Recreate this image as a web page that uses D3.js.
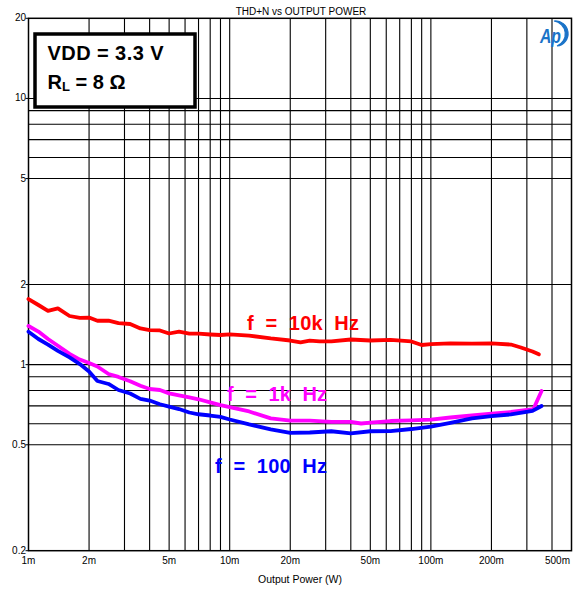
<!DOCTYPE html>
<html><head><meta charset="utf-8">
<script src="https://cdn.jsdelivr.net/npm/d3@7"></script>
<style>
html,body{margin:0;padding:0;background:#fff;}
svg{display:block;font-family:"Liberation Sans",Arial,sans-serif;}
</style></head>
<body>
<svg id="chart" width="575" height="591"></svg>
<script>
// ---- data ----
const powerRed = [0.001,0.00112,0.00125,0.0014,0.0016,0.0018,0.002,0.0022,0.0025,0.0028,0.0032,0.0036,0.004,0.0045,0.005,0.0056,0.0063,0.007,0.008,0.009,0.01,0.0125,0.016,0.02,0.0225,0.025,0.028,0.032,0.04,0.05,0.063,0.08,0.09,0.1,0.125,0.16,0.2,0.25,0.28,0.32,0.344];
const thdRed = [1.764,1.675,1.591,1.628,1.523,1.499,1.503,1.462,1.462,1.433,1.421,1.367,1.349,1.344,1.309,1.330,1.307,1.307,1.298,1.292,1.300,1.285,1.254,1.232,1.213,1.230,1.222,1.222,1.243,1.232,1.238,1.222,1.185,1.195,1.201,1.199,1.201,1.190,1.160,1.120,1.093];
const powerMag = [0.001,0.00112,0.00125,0.0014,0.0016,0.0018,0.002,0.0022,0.0025,0.0028,0.0032,0.0036,0.004,0.0045,0.005,0.0056,0.0063,0.007,0.008,0.009,0.01,0.0125,0.016,0.02,0.025,0.032,0.04,0.045,0.05,0.063,0.08,0.1,0.125,0.16,0.2,0.25,0.323,0.355];
const thdMag = [1.397,1.331,1.248,1.177,1.098,1.045,1.014,0.984,0.922,0.899,0.866,0.833,0.810,0.803,0.780,0.766,0.753,0.741,0.721,0.705,0.693,0.667,0.628,0.616,0.616,0.609,0.609,0.601,0.606,0.614,0.617,0.622,0.633,0.644,0.655,0.664,0.680,0.796];
const powerBlue = [0.001,0.00112,0.00125,0.0014,0.0016,0.0018,0.002,0.0022,0.0025,0.0028,0.0032,0.0036,0.004,0.0045,0.005,0.0056,0.0063,0.007,0.008,0.009,0.01,0.0125,0.016,0.02,0.025,0.032,0.04,0.05,0.063,0.08,0.1,0.125,0.16,0.2,0.25,0.32,0.355];
const thdBlue = [1.330,1.248,1.190,1.127,1.064,1.005,0.942,0.868,0.846,0.803,0.779,0.744,0.733,0.710,0.696,0.681,0.661,0.651,0.644,0.636,0.622,0.596,0.571,0.554,0.556,0.562,0.552,0.562,0.563,0.573,0.585,0.604,0.628,0.641,0.650,0.670,0.699];

const xTickValues = [0.001,0.002,0.005,0.01,0.02,0.05,0.1,0.2,0.5];
const xTickLabels = ["1m","2m","5m","10m","20m","50m","100m","200m","500m"];
const xGridValues = [0.002,0.003,0.004,0.005,0.006,0.007,0.008,0.009,0.01,0.02,0.03,0.04,0.05,0.06,0.07,0.08,0.09,0.1,0.2,0.3,0.4];
const yTickValues = [20,10,5,2,1,0.5,0.2];
const yTickLabels = ["20","10","5","2","1","0.5","0.2"];
const yGridValues = [10,9,8,7,6,5,2,1,0.9,0.8,0.7,0.6,0.5];

const seriesNames = ["f  =  10k  Hz","f  =  1k  Hz","f  =  100  Hz"];
const seriesColors = ["#ff0000","#ff00ff","#0000ff"];

// ---- chart ----
const svg = d3.select("#chart");
const L = 28.5, R = 571.5, T = 18.3, B = 550.7;
const x = d3.scaleLog().domain([0.001,0.5]).range([L,R]);
const y = d3.scaleLog().domain([0.2,20]).range([B,T]);

svg.append("rect").attr("x",0).attr("y",0).attr("width",575).attr("height",591).attr("fill","#fff");

// grid
const grid = svg.append("g").attr("stroke","#000").attr("stroke-width",1.1);
grid.selectAll("line.v").data(xGridValues).join("line")
  .attr("x1",d=>x(d)).attr("x2",d=>x(d)).attr("y1",T).attr("y2",B);
grid.selectAll("line.h").data(yGridValues).join("line")
  .attr("x1",L).attr("x2",R).attr("y1",d=>y(d)).attr("y2",d=>y(d));

// frame
svg.append("rect").attr("x",L).attr("y",T).attr("width",R-L).attr("height",B-T)
  .attr("fill","none").attr("stroke","#000").attr("stroke-width",1.5);

// y ticks
svg.append("g").selectAll("line").data(yTickValues).join("line")
  .attr("x1",L-3).attr("x2",L).attr("y1",d=>y(d)).attr("y2",d=>y(d))
  .attr("stroke","#000").attr("stroke-width",1);
svg.append("g").selectAll("text").data(yTickValues).join("text")
  .attr("x",L-2.5).attr("y",d=>y(d)+3)
  .attr("text-anchor","end").attr("font-size",10).attr("fill","#000")
  .text((d,i)=>yTickLabels[i]);

// x tick labels
svg.append("g").selectAll("text").data(xTickValues).join("text")
  .attr("x",(d,i)=> i===xTickValues.length-1 ? x(d)-1.5 : x(d))
  .attr("y",B+13)
  .attr("text-anchor",(d,i)=> i===xTickValues.length-1 ? "end" : "middle")
  .attr("font-size",10).attr("fill","#000")
  .text((d,i)=>xTickLabels[i]);

// titles
svg.append("text").attr("x",301).attr("y",15).attr("text-anchor","middle")
  .attr("font-size",10).attr("fill","#000").text("THD+N vs OUTPUT POWER");
svg.append("text").attr("x",300).attr("y",583).attr("text-anchor","middle")
  .attr("font-size",10.5).attr("fill","#000").text("Output Power (W)");

// curves
const line = d3.line().x(d=>x(d[0])).y(d=>y(d[1]));
const series = [
  d3.zip(powerRed,thdRed),
  d3.zip(powerMag,thdMag),
  d3.zip(powerBlue,thdBlue)
];
series.forEach((s,i)=>{
  svg.append("path").datum(s).attr("d",line)
    .attr("fill","none").attr("stroke",seriesColors[i]).attr("stroke-width",3.8)
    .attr("stroke-linejoin","round").attr("stroke-linecap","round");
});

// curve labels
const labelPos = [[247,330,112],[227,401,100],[215,473,112]];
seriesNames.forEach((t,i)=>{
  svg.append("text").attr("x",labelPos[i][0]).attr("y",labelPos[i][1])
    .attr("font-size",20).attr("font-weight","bold").attr("fill",seriesColors[i])
    .attr("textLength",labelPos[i][2]).attr("lengthAdjust","spacing")
    .style("white-space","pre").text(t);
});

// legend box
svg.append("rect").attr("x",35).attr("y",34).attr("width",160).attr("height",73)
  .attr("fill","#fff").attr("stroke","#000").attr("stroke-width",3.5);
svg.append("text").attr("x",47.5).attr("y",59.5).attr("font-size",20).attr("font-weight","bold")
  .attr("textLength",116).attr("lengthAdjust","spacing").text("VDD = 3.3 V");
const rl = svg.append("text").attr("x",47.5).attr("y",89).attr("font-size",20).attr("font-weight","bold");
rl.append("tspan").text("R");
rl.append("tspan").attr("font-size",13).attr("dy",2).text("L");
rl.append("tspan").attr("dy",-2).text(" = 8 Ω");

// AP logo
const logo = svg.append("g");
logo.append("path").attr("d","M554,21 A13,13 0 0 1 557,46 A11.5,11.5 0 0 0 554,21 Z")
  .attr("fill","#1a73c8").attr("stroke","#1a73c8").attr("stroke-width",1.2);
logo.append("text").attr("x",540).attr("y",43).attr("font-size",21).attr("font-style","italic")
  .attr("font-weight","bold").attr("textLength",21).attr("lengthAdjust","spacingAndGlyphs")
  .attr("fill","#1a73c8").text("Ap");
</script>
</body></html>
